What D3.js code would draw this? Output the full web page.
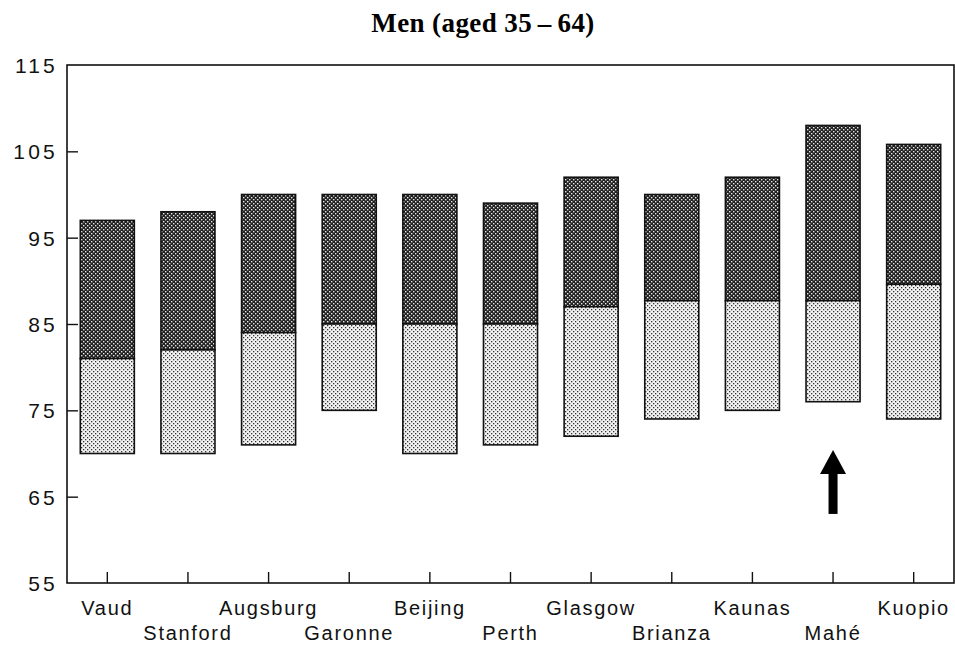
<!DOCTYPE html>
<meta charset="utf-8">
<html>
<head>
<style>
body { margin: 0; background: #fff; }
.tick-label { font-family: "Liberation Sans", Arial, sans-serif; fill: #111; }
.title { font-family: "Liberation Serif", "Times New Roman", serif; font-weight: bold; }
</style>
</head>
<body>
<svg width="955" height="648"></svg>
<script src="https://cdn.jsdelivr.net/npm/d3@7/dist/d3.min.js"></script>
<script>

// data
var centres = ["Vaud", "Stanford", "Augsburg", "Garonne", "Beijing", "Perth",
               "Glasgow", "Brianza", "Kaunas", "Mahé", "Kuopio"];
var lowVals  = [70, 70, 71, 75, 70, 71, 72, 74, 75, 76, 74];
var midVals  = [81, 82, 84, 85, 85, 85, 87, 87.7, 87.7, 87.7, 89.6];
var highVals = [97, 98, 100, 100, 100, 99, 102, 100, 102, 108, 105.8];
var yTicks = [55, 65, 75, 85, 95, 105, 115];
var arrowFor = "Mahé";
var arrowRange = [63, 70.4];

var svg = d3.select("svg"),
    margin = {top: 65, right: 1, bottom: 65, left: 67},
    width = +svg.attr("width") - margin.left - margin.right,
    height = +svg.attr("height") - margin.top - margin.bottom;

var defs = svg.append("defs");

// dark cross hatch
var dark = defs.append("pattern").attr("id", "dark")
    .attr("width", 4).attr("height", 4).attr("patternUnits", "userSpaceOnUse");
dark.append("rect").attr("width", 4).attr("height", 4).attr("fill", "#222");
dark.append("rect").attr("x", 0).attr("y", 0).attr("width", 1.4).attr("height", 1.4).attr("fill", "#e8e8e8");
dark.append("rect").attr("x", 2).attr("y", 2).attr("width", 1.4).attr("height", 1.4).attr("fill", "#e8e8e8");

// light dots
var light = defs.append("pattern").attr("id", "light")
    .attr("width", 4).attr("height", 4).attr("patternUnits", "userSpaceOnUse");
light.append("rect").attr("width", 4).attr("height", 4).attr("fill", "#f2f2f2");
light.append("rect").attr("x", 0).attr("y", 0).attr("width", 1.3).attr("height", 1.3).attr("fill", "#333");
light.append("rect").attr("x", 2).attr("y", 2).attr("width", 1.3).attr("height", 1.3).attr("fill", "#333");

var g = svg.append("g").attr("transform", "translate(" + margin.left + "," + margin.top + ")");

var x = d3.scaleBand().domain(centres).range([0, width]).paddingInner(0.33).paddingOuter(0.165);
var y = d3.scaleLinear().domain([55, 115]).range([height, 0]);

// title
svg.append("text").attr("class", "title")
    .attr("x", 483).attr("y", 32)
    .attr("text-anchor", "middle")
    .style("font-size", "27px")
    .style("letter-spacing", "0.4px")
    .text("Men (aged 35\u2009\u2013\u200964)");

// bars
var bars = g.selectAll(".bar").data(centres).enter().append("g").attr("class", "bar");

bars.append("rect")
    .attr("x", function(d) { return x(d); })
    .attr("width", x.bandwidth())
    .attr("y", function(d, i) { return y(highVals[i]); })
    .attr("height", function(d, i) { return y(midVals[i]) - y(highVals[i]); })
    .attr("fill", "url(#dark)")
    .attr("stroke", "#111").attr("stroke-width", 1.6);

bars.append("rect")
    .attr("x", function(d) { return x(d); })
    .attr("width", x.bandwidth())
    .attr("y", function(d, i) { return y(midVals[i]); })
    .attr("height", function(d, i) { return y(lowVals[i]) - y(midVals[i]); })
    .attr("fill", "url(#light)")
    .attr("stroke", "#111").attr("stroke-width", 1.6);

// frame
g.append("rect").attr("width", width).attr("height", height)
    .attr("fill", "none").attr("stroke", "#111").attr("stroke-width", 1.6);

// y axis ticks pointing inward
var yAxis = g.append("g").call(d3.axisLeft(y).tickValues(yTicks).tickSize(-11).tickPadding(9));
yAxis.select(".domain").remove();
yAxis.selectAll(".tick line").attr("stroke", "#111").attr("stroke-width", 1.4)
    .filter(function(d) { return d === 55 || d === 115; }).remove();
yAxis.selectAll(".tick text").attr("class", "tick-label")
    .attr("fill", "#111")
    .style("font-size", "21px").style("letter-spacing", "3.2px")
    .attr("dy", "0.36em");

// x axis ticks pointing inward, labels on two rows
var xAxis = g.append("g").attr("transform", "translate(0," + height + ")")
    .call(d3.axisBottom(x).tickSize(-11).tickPadding(0));
xAxis.select(".domain").remove();
xAxis.selectAll(".tick line").attr("stroke", "#111").attr("stroke-width", 1.4);
xAxis.selectAll(".tick text").attr("class", "tick-label")
    .attr("fill", "#111")
    .style("font-size", "20px").style("letter-spacing", "1.7px")
    .attr("y", function(d, i) { return i % 2 === 0 ? 32 : 57; })
    .attr("dy", 0);

// arrow under Mahé
var ax = x(arrowFor) + x.bandwidth() / 2;
var tipY = y(arrowRange[1]), baseY = y(arrowRange[0]);
g.append("rect")
    .attr("x", ax - 4.5).attr("y", tipY + 20)
    .attr("width", 9).attr("height", baseY - tipY - 20)
    .attr("fill", "#000");
g.append("path")
    .attr("d", d3.line()([[ax, tipY], [ax - 13, tipY + 24], [ax + 13, tipY + 24]]) + "Z")
    .attr("fill", "#000");

</script>
</body>
</html>
